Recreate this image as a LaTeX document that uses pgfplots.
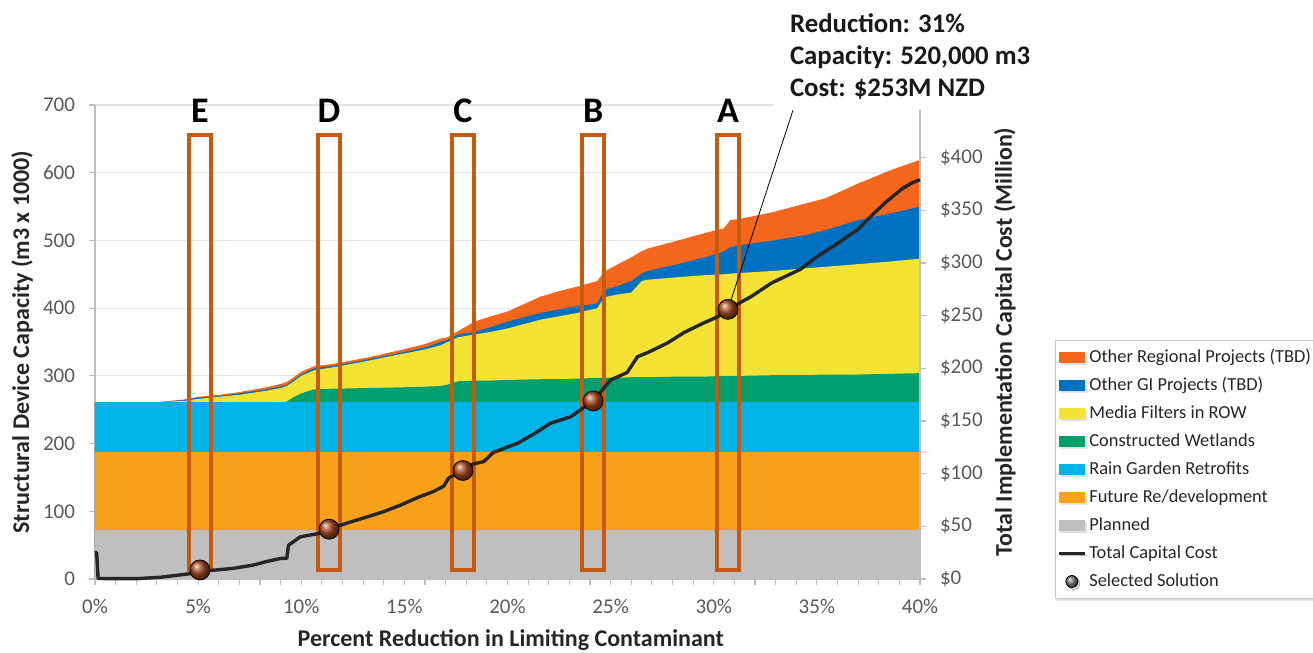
\documentclass[border=0pt]{standalone}
\usepackage{pgfplots}
\pgfplotsset{compat=1.18}
\usepackage{pgfplotstable}
\usepackage{fontspec}
\setmainfont{Carlito}
\usetikzlibrary{shadows}
\definecolor{cReg}{HTML}{F4661B}
\definecolor{cGI}{HTML}{0070C0}
\definecolor{cMedia}{HTML}{F4E333}
\definecolor{cWet}{HTML}{00A06E}
\definecolor{cRain}{HTML}{00B4E8}
\definecolor{cFut}{HTML}{F7A11A}
\definecolor{cPlan}{HTML}{BFBFBF}
\definecolor{cBox}{HTML}{C55A11}
\definecolor{cBall}{HTML}{A5491A}
\definecolor{cAxis}{HTML}{BFBFBF}
\definecolor{cGrid}{HTML}{E3E3E3}
\definecolor{cTick}{HTML}{595959}

% cumulative tops of the stacked layers (m3 x 1000)
\pgfplotstableread{
x     W    Y    B    R
0     261  261  261  261
3.0   261  261  261  261
4.3   261  263  264  265
5.0   261  266  268  269
6.0   261  269  270  272
7.0   261  272  274  276
8.3   261  278  280  283
9.0   261  282  284  288
9.3   262  285  287  291
9.6   268  291  293  297
10.0  274  300  302  306
10.6  280  308  311  314
11.6  281  313  315  318
13.2  282  322  324  327
14.8  283  332  334  338
16.0  284  339  342  347
16.75 285  345  350  355
17.1  287  350  353  357
17.6  292  357  361  366
18.4  293  361  365  380
19.2  293  365  372  388
20.0  294  370  380  395
21.6  295  383  393  417
22.5  295  388  398  425
23.4  296  393  403  432
24.35 297  400  407  440
24.7  297  416  427  454
25.3  297  420  432  464
26.0  298  423  440  475
26.5  298  440  451  484
26.8  298  442  455  488
28.4  299  446  466  501
29.7  299  449  476  512
30.5  300  450  484  518
30.8  300  451  490  530
31.3  300  452  493  532
32.9  301  455  500  542
34.5  301  459  508  555
35.4  302  461  515  562
37.0  302  465  530  584
38.6  303  469  540  604
40.0  304  473  550  619
}\layers

% total capital cost ($ million)
\pgfplotstableread{
x     c
0     25
0.08  25
0.15  0.5
1     0.3
2     0.3
3.15  1.6
4.1   3.8
4.7   5.2
5.09  7.5
5.9   8.6
6.7   10.1
7.7   13.3
8.3   16.5
9.0   19.5
9.3   19.7
9.38  32
9.95  40
10.9  43.4
11.35 47.3
12.2  53
13.2  59
14.0  64
14.8  70
15.6  77
16.4  83
16.9  88
17.15 96
17.84 103
18.3  109
18.85 111.5
19.3  120
20.5  129
21.3  138
22.1  148
23.06 154
24.15 169
25.0  189
25.8  196
26.3  211
26.8  215
27.75 224
28.56 234
29.5  243
30.2  249
30.69 256
31.8  268
32.8  281
34.2  294
35.0  306
35.8  316
37.0  332
37.6  344
38.3  357
39.1  370
39.6  376
40.0  379
}\cost

% selected solutions
\pgfplotstableread{
x     c
5.09  8.6
11.35 47.3
17.84 103
24.15 169
30.69 256
}\sel

\begin{document}
\begin{tikzpicture}
\begin{axis}[
  scale only axis, width=412.5pt, height=237pt,
  at={(0,0)}, anchor=south west,
  xmin=0, xmax=40, ymin=0, ymax=700,
  clip=false,
  axis x line*=bottom, axis y line*=left,
  axis line style={cAxis, line width=0.6pt},
  tick align=outside,
  major tick length=3pt, minor tick length=3pt,
  every tick/.style={cAxis, line width=0.6pt},
  xtick={0,5,...,40}, minor xtick={0,1,...,40},
  xticklabels={0\%,5\%,10\%,15\%,20\%,25\%,30\%,35\%,40\%},
  ytick={0,100,...,700},
  ymajorgrids, grid style={cGrid, line width=0.6pt},
  /pgf/number format/assume math mode=true,
  tick label style={font=\fontsize{10.5}{12}\selectfont, text=cTick},
  yticklabel style={xshift=-3.5pt},
  xticklabel style={yshift=-3.5pt},
  xlabel={Percent Reduction in Limiting Contaminant},
  ylabel={Structural Device Capacity (m3 x 1000)},
  label style={font=\fontsize{12}{14}\selectfont\bfseries, text=black!85},
  xlabel style={at={(axis description cs:0.504,-0.1287)}, anchor=center},
  ylabel style={at={(axis description cs:-0.0885,0.5)}, anchor=center},
  legend image code/.code={\fill[#1] (0pt,-2.6pt) rectangle (13pt,2.6pt);},
  legend style={at={(1.1636,0.504)}, anchor=north west,
    draw=gray!45, fill=white, line width=0.4pt,
    drop shadow={opacity=0.25, shadow xshift=1pt, shadow yshift=-1pt},
    font=\fontsize{9.2}{11}\selectfont, text=black!85,
    row sep=2pt, inner xsep=1pt, inner ysep=2.5pt,
    nodes={text height=7pt, text depth=2pt, inner sep=1.5pt}},
  legend cell align=left,
]
\addplot[fill=cReg, draw=none] table[x=x,y=R]{\layers} \closedcycle;
\addlegendentry{Other Regional Projects (TBD)}
\addplot[fill=cGI, draw=none] table[x=x,y=B]{\layers} \closedcycle;
\addlegendentry{Other GI Projects (TBD)}
\addplot[fill=cMedia, draw=none] table[x=x,y=Y]{\layers} \closedcycle;
\addlegendentry{Media Filters in ROW}
\addplot[fill=cWet, draw=none] table[x=x,y=W]{\layers} \closedcycle;
\addlegendentry{Constructed Wetlands}
\addplot[fill=cRain, draw=none] coordinates {(0,261) (40,261)} \closedcycle;
\addlegendentry{Rain Garden Retrofits}
\addplot[fill=cFut, draw=none] coordinates {(0,188) (40,188)} \closedcycle;
\addlegendentry{Future Re/development}
\addplot[fill=cPlan, draw=none] coordinates {(0,72) (40,72)} \closedcycle;
\addlegendentry{Planned}
\addlegendimage{legend image code/.code={\draw[black!85, line width=1.5pt] (0pt,0pt) -- (13pt,0pt);}}
\addlegendentry{Total Capital Cost}
\addlegendimage{legend image code/.code={\shade[ball color=gray] (6.5pt,0pt) circle (3pt);}}
\addlegendentry{Selected Solution}

\foreach \cx/\lab in {5.09/E, 11.35/D, 17.84/C, 24.15/B, 30.69/A}{
  \edef\tmp{\noexpand\draw[cBox, line width=2pt] (axis cs:\cx-0.55,12.8) rectangle (axis cs:\cx+0.55,655);
    \noexpand\node[font=\noexpand\fontsize{18}{20}\noexpand\bfseries, text=black] at (axis cs:\cx,691) {\lab};}
  \tmp
}
\end{axis}

\begin{axis}[
  scale only axis, width=412.5pt, height=237pt,
  at={(0,0)}, anchor=south west,
  xmin=0, xmax=40, ymin=0, ymax=450,
  clip=false,
  axis x line=none, axis y line*=right,
  axis line style={cAxis, line width=0.6pt},
  tick align=outside, major tick length=3pt,
  every tick/.style={cAxis, line width=0.6pt},
  ytick={0,50,...,400},
  yticklabels={\$0,\$50,\$100,\$150,\$200,\$250,\$300,\$350,\$400},
  tick label style={font=\fontsize{10.5}{12}\selectfont, text=cTick},
  yticklabel style={xshift=3.5pt},
  ylabel={Total Implementation Capital Cost (Million)},
  label style={font=\fontsize{12}{14}\selectfont\bfseries, text=black!85},
  ylabel style={at={(axis description cs:1.103,0.5)}, anchor=center, rotate=0},
]
\addplot[black!85, line width=1.7pt, line join=round] table[x=x,y=c]{\cost};
\draw[black, line width=0.4pt] (axis cs:30.69,256) -- (axis cs:33.84,445);
\addplot[only marks, mark=ball, mark size=5pt, ball color=cBall] table[x=x,y=c]{\sel};
\end{axis}

\fill[white] (339pt,234.5pt) rectangle (495pt,295pt);
\node[anchor=base west, font=\fontsize{13.4}{16}\selectfont\bfseries, text=black!90] at (344pt,273pt) {Reduction: 31\%};
\node[anchor=base west, font=\fontsize{13.4}{16}\selectfont\bfseries, text=black!90] at (344pt,257pt) {Capacity: 520,000 m3};
\node[anchor=base west, font=\fontsize{13.4}{16}\selectfont\bfseries, text=black!90] at (344pt,241pt) {Cost: \$253M NZD};

\pgfresetboundingbox
\path[use as bounding box] (-47.5pt,-37pt) rectangle (609pt,289.5pt);
\end{tikzpicture}
\end{document}
